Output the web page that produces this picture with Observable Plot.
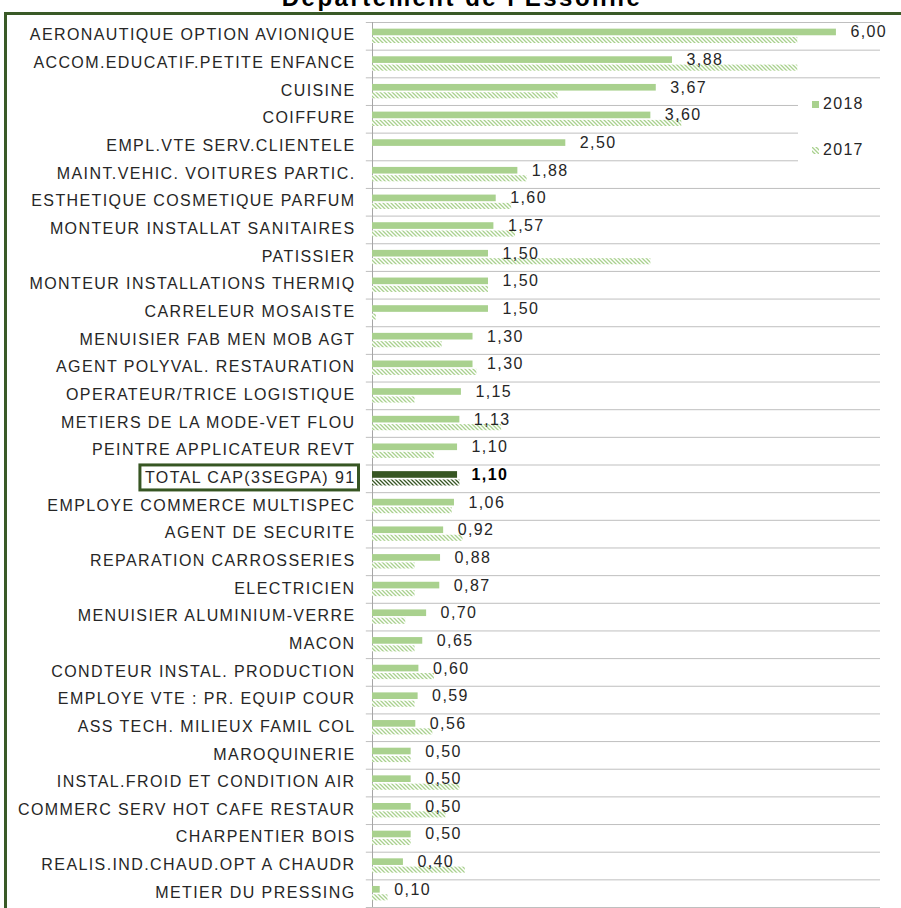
<!DOCTYPE html>
<html>
<head>
<meta charset="utf-8">
<script src="https://cdn.jsdelivr.net/npm/d3@7"></script>
<script src="https://cdn.jsdelivr.net/npm/@observablehq/plot@0.6"></script>
<style>
html, body { margin: 0; padding: 0; background: #fff; overflow: hidden; width: 901px; height: 908px; }
#wrap { position: relative; width: 901px; height: 908px; overflow: hidden; font-family: "Liberation Sans", Arial, sans-serif; }
#frame { position: absolute; left: 4px; top: 12px; width: 1000px; height: 1000px; border: 3px solid #3a5a27; box-sizing: border-box; }
#title { position: absolute; left: 0; width: 924px; text-align: center; top: -14px; font-size: 24px; line-height: 24px; font-weight: bold; letter-spacing: 2.5px; color: #000; white-space: nowrap; }
#chart { position: absolute; left: 0; top: 0; }
#legend { position: absolute; left: 798px; top: 88px; width: 90px; height: 78px; background: #fff; }
.item { position: absolute; left: 14px; height: 20px; display: flex; align-items: center; font-size: 16px; letter-spacing: 1.3px; color: #262626; }
.item svg { margin-right: 4px; }
</style>
</head>
<body>
<div id="wrap">
  <div id="frame"></div>
  <div id="title">Département de l'Essonne</div>
  <div id="chart"></div>
  <div id="legend">
    <div class="item" style="top:6px"><svg width="7" height="7"><rect width="7" height="7" fill="#a9d18e"/></svg><span>2018</span></div>
    <div class="item" style="top:52px"><svg width="7" height="7"><defs><pattern id="lgHatch" width="4" height="4" patternUnits="userSpaceOnUse"><path d="M-1,-1L5,5M3,-1L5,1M-1,3L1,5" stroke="#a9d18e" stroke-width="1.3"/></pattern></defs><rect width="7" height="7" fill="url(#lgHatch)"/></svg><span>2017</span></div>
  </div>
</div>
<script>
const categories = [
  "AERONAUTIQUE OPTION AVIONIQUE",
  "ACCOM.EDUCATIF.PETITE ENFANCE",
  "CUISINE",
  "COIFFURE",
  "EMPL.VTE SERV.CLIENTELE",
  "MAINT.VEHIC. VOITURES PARTIC.",
  "ESTHETIQUE COSMETIQUE PARFUM",
  "MONTEUR INSTALLAT SANITAIRES",
  "PATISSIER",
  "MONTEUR INSTALLATIONS THERMIQ",
  "CARRELEUR MOSAISTE",
  "MENUISIER FAB MEN MOB AGT",
  "AGENT POLYVAL. RESTAURATION",
  "OPERATEUR/TRICE LOGISTIQUE",
  "METIERS DE LA MODE-VET FLOU",
  "PEINTRE APPLICATEUR REVT",
  "TOTAL CAP(3SEGPA) 91",
  "EMPLOYE COMMERCE MULTISPEC",
  "AGENT DE SECURITE",
  "REPARATION CARROSSERIES",
  "ELECTRICIEN",
  "MENUISIER ALUMINIUM-VERRE",
  "MACON",
  "CONDTEUR INSTAL. PRODUCTION",
  "EMPLOYE VTE : PR. EQUIP COUR",
  "ASS TECH. MILIEUX FAMIL COL",
  "MAROQUINERIE",
  "INSTAL.FROID ET CONDITION AIR",
  "COMMERC SERV HOT CAFE RESTAUR",
  "CHARPENTIER BOIS",
  "REALIS.IND.CHAUD.OPT A CHAUDR",
  "METIER DU PRESSING"
];
const values2018 = [6.00, 3.88, 3.67, 3.60, 2.50, 1.88, 1.60, 1.57, 1.50, 1.50, 1.50, 1.30, 1.30, 1.15, 1.13, 1.10, 1.10, 1.06, 0.92, 0.88, 0.87, 0.70, 0.65, 0.60, 0.59, 0.56, 0.50, 0.50, 0.50, 0.50, 0.40, 0.10];
const values2017 = [5.50, 5.50, 2.40, 4.00, null, 2.00, 1.80, 1.85, 3.60, 1.50, 0.05, 0.90, 1.35, 0.55, 1.67, 0.80, 1.13, 1.03, 1.17, 0.55, 0.55, 0.43, 0.55, 0.80, 0.55, 0.78, 0.50, 1.13, 0.95, 0.50, 1.20, 0.20];
const totalLabel = "TOTAL CAP(3SEGPA) 91";
const xMax = 6.57;

const light = "#a9d18e", dark = "#375623";
const n = categories.length;
const rows = categories.map((c, i) => ({i, c, a: values2018[i], b: values2017[i], total: c === totalLabel}));
const normal = rows.filter(d => !d.total);
const total = rows.filter(d => d.total);
const fmt = v => d3.format(".2f")(v).replace(".", ",");

const defs = () => {
  const g = document.createElementNS("http://www.w3.org/2000/svg", "defs");
  g.innerHTML = `
    <pattern id="hatchLight" width="4" height="4" patternUnits="userSpaceOnUse">
      <rect width="4" height="4" fill="#fff"/>
      <path d="M-1,-1L5,5M3,-1L5,1M-1,3L1,5" stroke="${light}" stroke-width="1.3"/>
    </pattern>
    <pattern id="hatchDark" width="4" height="4" patternUnits="userSpaceOnUse">
      <rect width="4" height="4" fill="#fff"/>
      <path d="M-1,-1L5,5M3,-1L5,1M-1,3L1,5" stroke="${dark}" stroke-width="1.3"/>
    </pattern>`;
  return g;
};

const bounds = d3.range(-0.5, n, 1);

const chart = Plot.plot({
  width: 901,
  height: 908,
  marginLeft: 372,
  marginRight: 21,
  marginTop: 22,
  marginBottom: 1,
  style: "font-family: 'Liberation Sans', Arial, sans-serif; font-size: 16px; letter-spacing: 1.4px; background: transparent; overflow: visible; color: #262626;",
  x: {domain: [0, xMax], axis: null},
  y: {domain: [-0.5, n - 0.5], reverse: true, axis: null},
  marks: [
    defs,
    Plot.ruleY(bounds, {y: d => d, x1: () => -0.08, x2: () => xMax, stroke: "#bfbfbf", strokeWidth: 1}),
    Plot.ruleX([0], {y1: () => -0.5, y2: () => n - 0.5, stroke: "#a6a6a6", strokeWidth: 1}),
    Plot.rect(normal, {x1: () => 0, x2: "a", y1: d => d.i - 0.26, y2: d => d.i - 0.02, fill: light}),
    Plot.rect(normal.filter(d => d.b != null), {x1: () => 0, x2: "b", y1: d => d.i + 0.04, y2: d => d.i + 0.26, fill: "url(#hatchLight)"}),
    Plot.rect(total, {x1: () => 0, x2: "a", y1: d => d.i - 0.26, y2: d => d.i - 0.02, fill: dark}),
    Plot.rect(total, {x1: () => 0, x2: "b", y1: d => d.i + 0.04, y2: d => d.i + 0.26, fill: "url(#hatchDark)"}),
    Plot.text(rows, {x: () => 0, y: "i", text: "c", textAnchor: "end", dx: -17, dy: -1, fontSize: 16, fill: "#262626"}),
    Plot.text(normal, {x: "a", y: "i", text: d => fmt(d.a), textAnchor: "start", dx: 14, dy: -4, fontSize: 16, fill: "#262626"}),
    Plot.text(total, {x: "a", y: "i", text: d => fmt(d.a), textAnchor: "start", dx: 14, dy: -4, fontSize: 16, fontWeight: "bold", fill: "#000"})
  ]
});

document.getElementById("chart").append(chart);

// box around the total label
const t = Array.from(chart.querySelectorAll("text")).find(el => el.textContent === totalLabel);
if (t) {
  const bb = t.getBBox();
  const r = document.createElementNS("http://www.w3.org/2000/svg", "rect");
  r.setAttribute("x", bb.x - 5);
  r.setAttribute("y", bb.y - 4);
  r.setAttribute("width", bb.width + 8);
  r.setAttribute("height", bb.height + 8);
  r.setAttribute("fill", "none");
  r.setAttribute("stroke", dark);
  r.setAttribute("stroke-width", 3);
  const tr = t.getAttribute("transform");
  if (tr) r.setAttribute("transform", tr);
  t.parentNode.appendChild(r);
}
</script>
</body>
</html>
